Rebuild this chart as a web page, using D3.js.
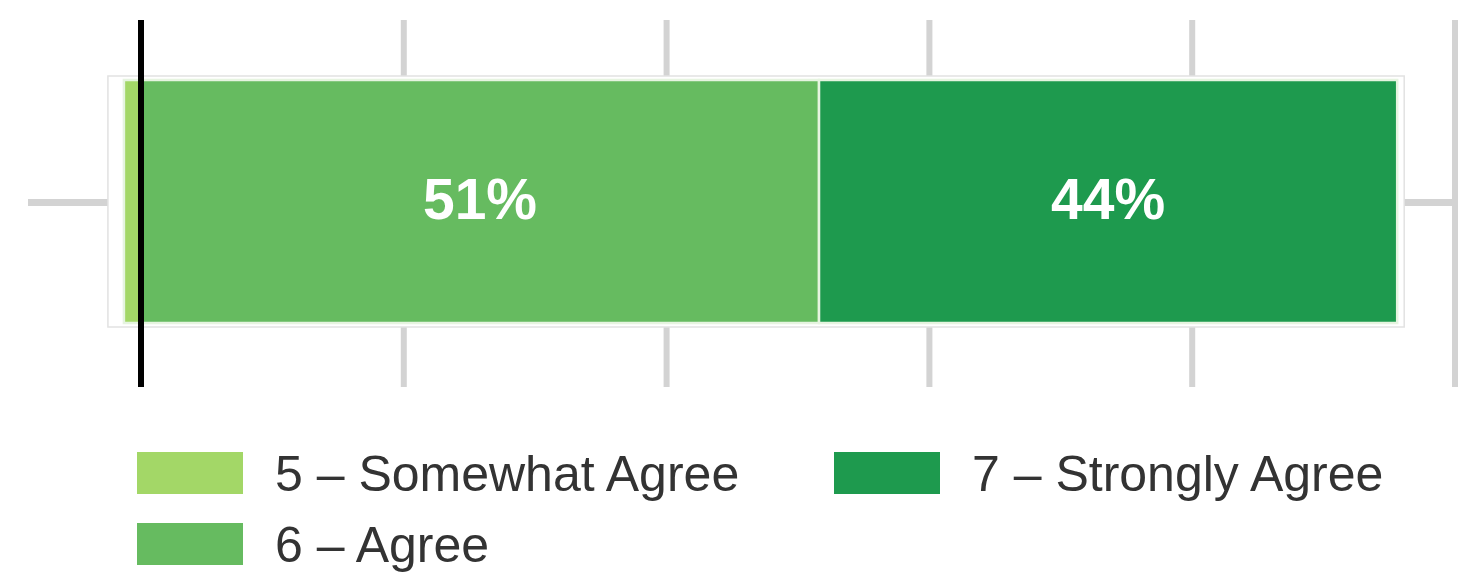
<!DOCTYPE html>
<html>
<head>
<meta charset="utf-8">
<script src="https://cdn.jsdelivr.net/npm/d3@7"></script>
<style>
  html, body { margin: 0; padding: 0; background: #fff; }
  svg { display: block; font-family: 'Liberation Sans', Arial, sans-serif; }
</style>
</head>
<body>
<svg width="1470" height="572"></svg>
<script>
// Response categories, shares (%) and the labels printed on the bar
const categories = ['5 – Somewhat Agree', '6 – Agree', '7 – Strongly Agree']
const values = [1.3, 51.6, 44.0]
const barLabels = ['', '51%', '44%']
const colors = ['#a3d767', '#66bb60', '#1e9a4e']
const tickValues = [0, 20, 40, 60, 80, 100]
const rows = ['Q1']

const svg = d3.select('svg')

const x = d3.scaleLinear().domain([0, 100]).range([141, 1455])
const y = d3.scaleBand().domain(rows).range([80, 323])

// the bar is diverging around the black line: "somewhat agree" sits left of it
const start = -values[0]
const ends = Array.from(d3.cumsum(values), (v) => v + start)
const segs = values.map((v, i) => ({
  name: categories[i],
  x0: i === 0 ? start : ends[i - 1],
  x1: ends[i],
  label: barLabels[i],
  color: colors[i],
}))

// grid lines
const grid = svg.append('g')
grid
  .selectAll('line.v')
  .data(tickValues.slice(1))
  .join('line')
  .attr('x1', (d) => x(d))
  .attr('x2', (d) => x(d))
  .attr('y1', 20)
  .attr('y2', 387)
  .attr('stroke', '#d3d3d3')
  .attr('stroke-width', 6)

grid
  .selectAll('line.h')
  .data(rows)
  .join('line')
  .attr('x1', 28)
  .attr('x2', x(100))
  .attr('y1', (d) => y(d) + y.bandwidth() / 2 + 1)
  .attr('y2', (d) => y(d) + y.bandwidth() / 2 + 1)
  .attr('stroke', '#d3d3d3')
  .attr('stroke-width', 7)

// faint frame around the bar
const xEnd = ends[ends.length - 1]
svg
  .append('rect')
  .attr('x', x(start) - 16)
  .attr('y', y.range()[0] - 4)
  .attr('width', x(xEnd) - x(start) + 23)
  .attr('height', y.bandwidth() + 8)
  .attr('fill', '#fff')
  .attr('stroke', '#e2e2e2')
  .attr('stroke-width', 1.5)

const bar = svg.append('g')
bar
  .selectAll('rect')
  .data(segs)
  .join('rect')
  .attr('x', (d) => x(d.x0))
  .attr('y', y(rows[0]))
  .attr('width', (d) => x(d.x1) - x(d.x0))
  .attr('height', y.bandwidth())
  .attr('fill', (d) => d.color)
  .attr('stroke', '#e6f4e0')
  .attr('stroke-width', 2.5)

bar
  .selectAll('text')
  .data(segs.filter((d) => d.label))
  .join('text')
  .attr('x', (d) => (x(d.x0) + x(d.x1)) / 2)
  .attr('y', y(rows[0]) + y.bandwidth() / 2)
  .attr('dy', '0.3em')
  .attr('text-anchor', 'middle')
  .attr('fill', '#fff')
  .attr('font-weight', 'bold')
  .attr('font-size', 57)
  .text((d) => d.label)

// zero line
svg
  .append('line')
  .attr('x1', x(0))
  .attr('x2', x(0))
  .attr('y1', 20)
  .attr('y2', 387)
  .attr('stroke', '#000')
  .attr('stroke-width', 6)

// legend
const legendPos = [
  [137, 452],
  [137, 523],
  [834, 452],
]
const legend = svg
  .append('g')
  .selectAll('g')
  .data(categories)
  .join('g')
  .attr('transform', (d, i) => `translate(${legendPos[i][0]},${legendPos[i][1]})`)

legend
  .append('rect')
  .attr('width', 106)
  .attr('height', 42)
  .attr('fill', (d, i) => colors[i])

legend
  .append('text')
  .attr('x', 138)
  .attr('y', 21)
  .attr('dy', '0.36em')
  .attr('fill', '#333')
  .attr('font-size', 50)
  .text((d) => d)
</script>
</body>
</html>
